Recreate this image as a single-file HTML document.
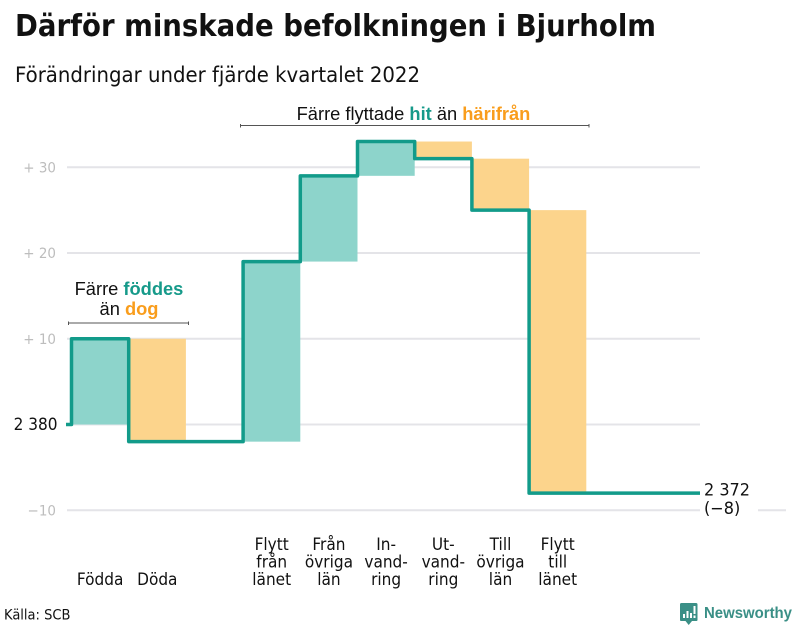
<!DOCTYPE html>
<html lang="sv">
<head>
<meta charset="utf-8">
<title>Därför minskade befolkningen i Bjurholm</title>
<style>
html,body{margin:0;padding:0;background:#fff;}
svg{display:block;}
text{font-family:"DejaVu Sans",sans-serif;fill:#111;}
.ann{font-family:"Liberation Sans",sans-serif;font-size:18.3px;}
.t{fill:#169a8a;font-weight:bold;}
.o{fill:#f99d1c;font-weight:bold;}
</style>
</head>
<body>
<svg id="chart" width="800" height="625" viewBox="0 0 800 625" xmlns="http://www.w3.org/2000/svg">
<text x="15" y="36" font-size="30" font-weight="bold" textLength="641" lengthAdjust="spacingAndGlyphs">Därför minskade befolkningen i Bjurholm</text>
<text x="15" y="82" font-size="21" textLength="405" lengthAdjust="spacingAndGlyphs">Förändringar under fjärde kvartalet 2022</text>
<g id="grid"></g>
<g id="bars"></g>
<g id="line"></g>
<g id="yaxis"></g>
<g id="xaxis"></g>
<g>
<text class="ann" x="129" y="295" text-anchor="middle">Färre <tspan class="t">föddes</tspan></text>
<text class="ann" x="129" y="315" text-anchor="middle">än <tspan class="o">dog</tspan></text>
<path d="M68.500 321.500V325M68.500 323H188.500M188.500 321.500V325" fill="none" stroke="#555" stroke-width="1"/>
</g>
<g>
<text class="ann" x="413.500" y="120" text-anchor="middle">Färre flyttade <tspan class="t">hit</tspan> än <tspan class="o">härifrån</tspan></text>
<path d="M240.500 124V127.500M240.500 125.500H589M589 124V127.500" fill="none" stroke="#555" stroke-width="1"/>
</g>
<text font-size="14.500" transform="translate(4 619.500) scale(.9 1)">Källa: SCB</text>
<g>
<path d="M680 604.500Q680 603 681.500 603H696Q697.500 603 697.500 604.500V620Q697.500 621 696 621H692L688.700 625L685.500 621H681.500Q680 621 680 620Z" fill="#3a8f86"/>
<path d="M683 614h2v4h-2zM686.500 611h2v7h-2zM690 613h2v5h-2zM693.500 606h2v8h-2zM693.500 615.500h2v2.500h-2z" fill="#fff"/>
<text x="704" y="618" font-size="15.500" font-weight="bold" textLength="88" lengthAdjust="spacingAndGlyphs" style="font-family:'Liberation Sans',sans-serif;fill:#3a8f86">Newsworthy</text>
</g>
</svg>
<script>
// Chart data
const categories = [["Födda"],["Döda"],[],["Flytt","från","länet"],["Från","övriga","län"],["In-","vand-","ring"],["Ut-","vand-","ring"],["Till","övriga","län"],["Flytt","till","länet"]];
const changes = [10,-12,0,21,10,4,-2,-6,-33];
const tickValues = [30,20,10,0,-10];
const tickLabels = ["+ 30","+ 20","+ 10","2 380","−10"];
const endLabels = ["2 372","(−8)"];

const svgNS = "http://www.w3.org/2000/svg";
const yScale = v => 424.5 - 8.575 * v;
const xScale = i => 71.5 + 57.2 * i;
const bandWidth = 57.2;
const plotRight = 700;

function node(parent, tag, attrs, txt) {
  const el = document.createElementNS(svgNS, tag);
  for (const k in attrs) el.setAttribute(k, attrs[k]);
  if (txt !== undefined) el.textContent = txt;
  parent.appendChild(el);
  return el;
}

function label(parent, x, y, str, size, anchor, fill) {
  const el = node(parent, "text", {transform:`translate(${x} ${y}) scale(.93 1)`, "font-size":size, "text-anchor":anchor, fill:fill});
  el.style.fill = fill;
  el.textContent = str;
  return el;
}

const grid = document.getElementById("grid");
const bars = document.getElementById("bars");
const lineG = document.getElementById("line");
const yaxis = document.getElementById("yaxis");
const xaxis = document.getElementById("xaxis");

tickValues.forEach((v, i) => {
  const gl = node(grid, "line", {x1:67, x2:plotRight, y1:yScale(v), y2:yScale(v), stroke:"#e4e4e8", "stroke-width":2});
  
  
  const isBase = v === 0;
  const t = label(yaxis, isBase ? 57.5 : 56, yScale(v) + (isBase ? 5.5 : 5), tickLabels[i], isBase ? 16.5 : 14.5, "end", isBase ? "#111" : "#bdbdbd");
  
  
});

const lastTick = tickValues[tickValues.length - 1];
const stub = node(grid, "line", {x1:758, x2:786, y1:yScale(lastTick), y2:yScale(lastTick), stroke:"#e4e4e8", "stroke-width":2});



let level = 0;
let d = `M66 ${yScale(0)}H${xScale(0)}`;
changes.forEach((c, i) => {
  const next = level + c;
  if (c !== 0) {
    const top = Math.max(level, next);
    const bottom = Math.min(level, next);
    const r = node(bars, "rect", {x:xScale(i), y:yScale(top), width:bandWidth, height:yScale(bottom) - yScale(top), fill:c > 0 ? "#8dd4cb" : "#fcd48c"});
    
    
    d += `V${yScale(next)}`;
  }
  d += `H${xScale(i + 1)}`;
  level = next;
});
d += `H${plotRight}`;
const path = node(lineG, "path", {d:d, fill:"none", stroke:"#129b8a", "stroke-width":3.5, "stroke-linejoin":"round"});



categories.forEach((lines, i) => {
  lines.forEach((word, j) => {
    const y = 585 - 17.6 * (lines.length - 1 - j);
    const t = label(xaxis, xScale(i) + bandWidth / 2, y, word, 16.5, "middle", "#111");
    
    
  });
});

endLabels.forEach((str, i) => {
  const t = label(yaxis, 704, yScale(level) + 2.5 + 18.5 * i, str, 17.3, "start", "#111");
  
  
});
</script>
</body>
</html>
